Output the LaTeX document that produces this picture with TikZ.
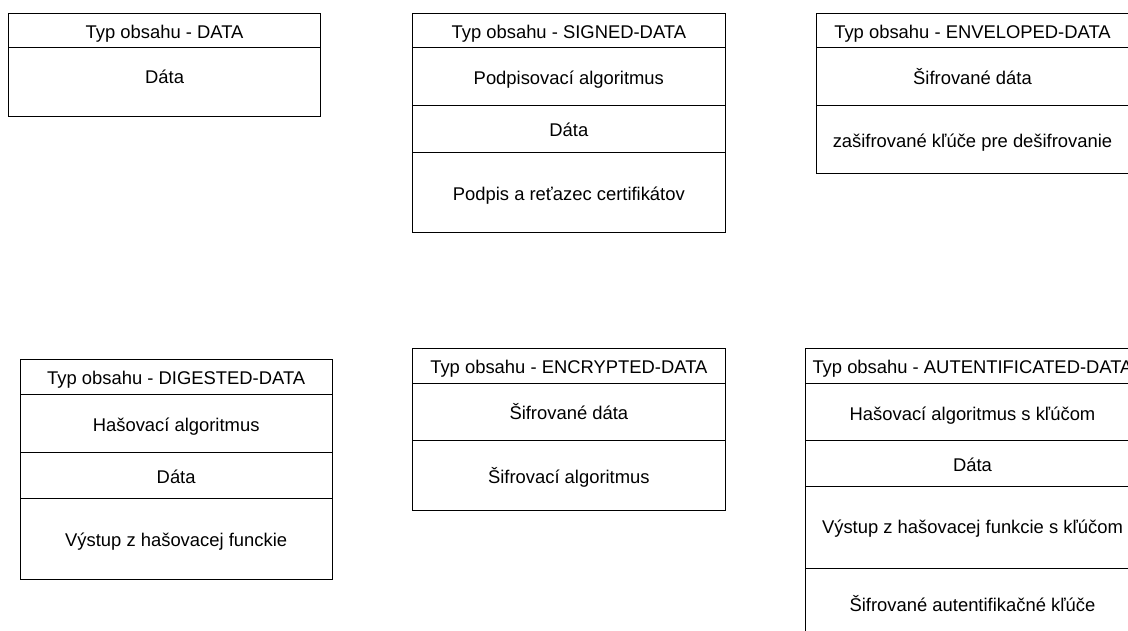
\documentclass[tikz,border=0pt]{standalone}
\usepackage{fontspec}
\setmainfont{Liberation Sans}
\begin{document}
\begin{tikzpicture}[x=1pt, y=-1pt,
  cell/.style={draw=black, line width=1pt, inner sep=0pt, outer sep=0pt,
    text height=18pt, text depth=2pt, anchor=north,
    font=\fontsize{18.4pt}{21pt}\selectfont},
  firstcell/.style={cell, anchor=north},
  lowtext/.style={text depth=14pt}
]
\useasboundingbox (0,0) rectangle (1128,631);
\clip (0,0) rectangle (1128,631);
\fill[white] (0,0) rectangle (1128,631);

% DATA
\begin{scope}[every node/.append style={minimum width=312.2pt}]
\node[firstcell, minimum height=34.2pt] (d1) at (164.6,13.5) {Typ obsahu - DATA};
\node[cell, minimum height=68.6pt, lowtext] (d2) at (d1.south) {Dáta};
\end{scope}

% SIGNED-DATA
\begin{scope}[every node/.append style={minimum width=312.3pt}]
\node[firstcell, minimum height=34.4pt] (s1) at (568.85,13.3) {Typ obsahu - SIGNED-DATA};
\node[cell, minimum height=58pt] (s2) at (s1.south) {Podpisovací algoritmus};
\node[cell, minimum height=46.6pt] (s3) at (s2.south) {Dáta};
\node[cell, minimum height=80pt] (s4) at (s3.south) {Podpis a reťazec certifikátov};
\end{scope}

% ENVELOPED-DATA
\begin{scope}[every node/.append style={minimum width=311.6pt}]
\node[firstcell, minimum height=34.4pt] (e1) at (972.5,13.3) {Typ obsahu - ENVELOPED-DATA};
\node[cell, minimum height=58.3pt] (e2) at (e1.south) {Šifrované dáta};
\node[cell, minimum height=68pt] (e3) at (e2.south) {zašifrované kľúče pre dešifrovanie};
\end{scope}

% DIGESTED-DATA
\begin{scope}[every node/.append style={minimum width=312.3pt}]
\node[firstcell, minimum height=35pt] (g1) at (176.15,359) {Typ obsahu - DIGESTED-DATA};
\node[cell, minimum height=58.7pt] (g2) at (g1.south) {Hašovací algoritmus};
\node[cell, minimum height=45.6pt] (g3) at (g2.south) {Dáta};
\node[cell, minimum height=81pt] (g4) at (g3.south) {Výstup z hašovacej funckie};
\end{scope}

% ENCRYPTED-DATA
\begin{scope}[every node/.append style={minimum width=312.3pt}]
\node[firstcell, minimum height=35pt] (c1) at (568.85,348.3) {Typ obsahu - ENCRYPTED-DATA};
\node[cell, minimum height=56.7pt] (c2) at (c1.south) {Šifrované dáta};
\node[cell, minimum height=70.7pt] (c3) at (c2.south) {Šifrovací algoritmus};
\end{scope}

% AUTENTIFICATED-DATA
\begin{scope}[every node/.append style={minimum width=335pt}]
\node[firstcell, minimum height=35pt] (a1) at (972.5,348.3) {Typ obsahu - AUTENTIFICATED-DATA};
\node[cell, minimum height=57.4pt] (a2) at (a1.south) {Hašovací algoritmus s kľúčom};
\node[cell, minimum height=46pt] (a3) at (a2.south) {Dáta};
\node[cell, minimum height=81.6pt, text depth=6pt] (a4) at (a3.south) {Výstup z hašovacej funkcie s kľúčom};
\node[cell, minimum height=76.7pt, text depth=8pt] (a5) at (a4.south) {Šifrované autentifikačné kľúče};
\end{scope}
\end{tikzpicture}
\end{document}
